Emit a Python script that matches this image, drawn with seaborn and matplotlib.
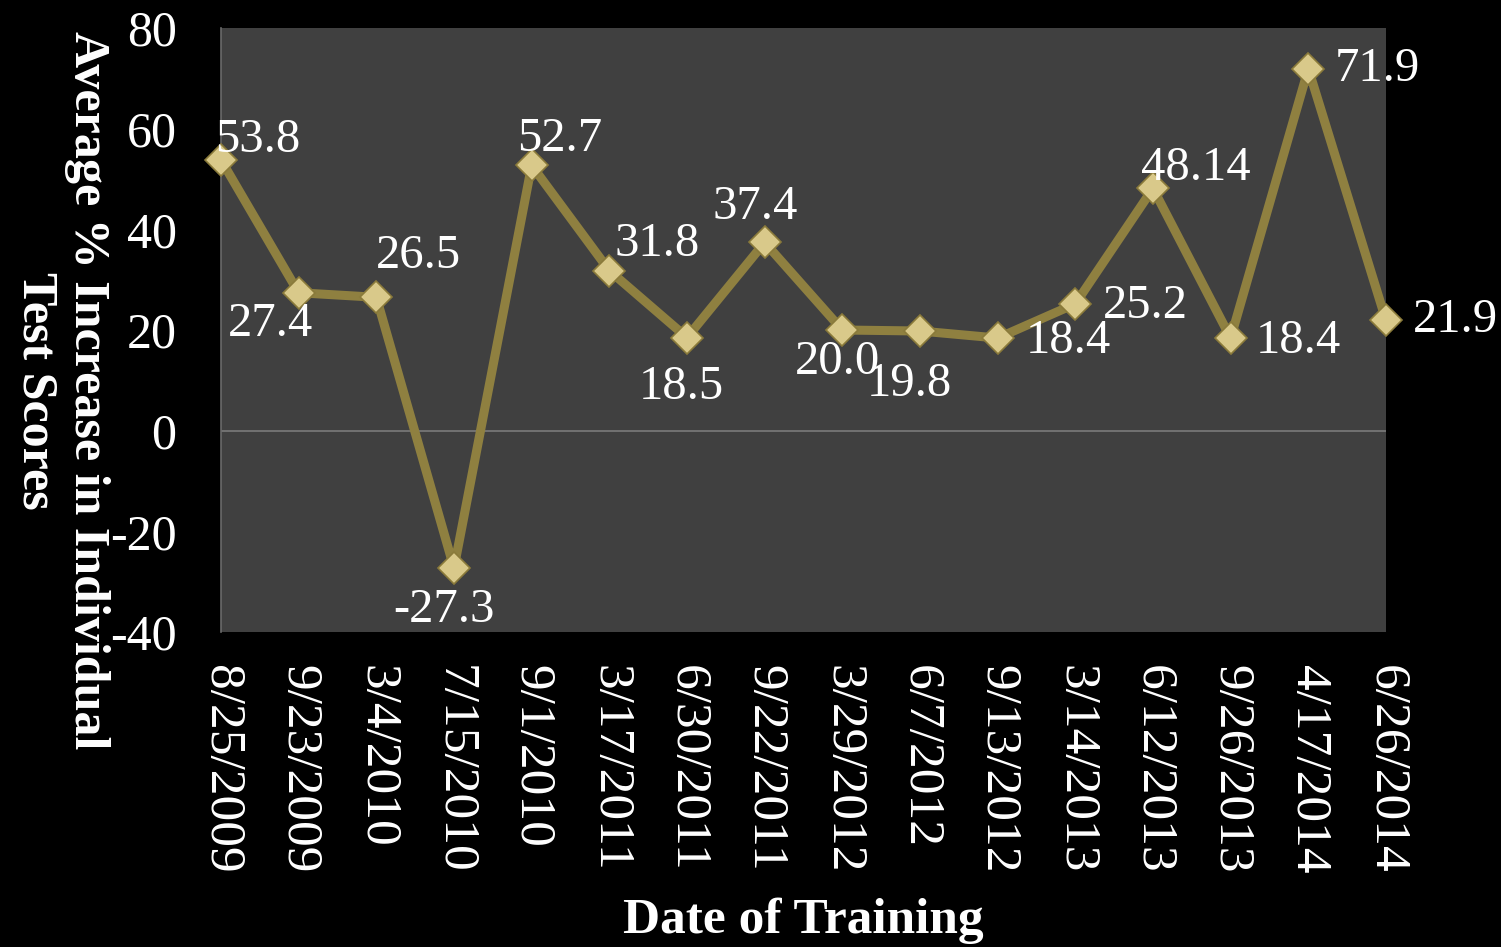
import pandas as pd
import matplotlib
matplotlib.use("Agg")
import matplotlib.pyplot as plt
import seaborn as sns


# Data
dates = [
    "8/25/2009", "9/23/2009", "3/4/2010", "7/15/2010", "9/1/2010",
    "3/17/2011", "6/30/2011", "9/22/2011", "3/29/2012", "6/7/2012",
    "9/13/2012", "3/14/2013", "6/12/2013", "9/26/2013", "4/17/2014",
    "6/26/2014",
]
increase = [53.8, 27.4, 26.5, -27.3, 52.7, 31.8, 18.5, 37.4, 20.0, 19.8,
            18.4, 25.2, 48.14, 18.4, 71.9, 21.9]
value_labels = ["53.8", "27.4", "26.5", "-27.3", "52.7", "31.8", "18.5",
                "37.4", "20.0", "19.8", "18.4", "25.2", "48.14", "18.4",
                "71.9", "21.9"]

df = pd.DataFrame({"pos": range(len(dates)), "date": dates, "increase": increase})

# label offsets in pixels (dx, dy) from each point
label_offsets = [(37, 20), (-28, -31), (42, 41), (-10, -42), (28, 26),
                 (48, 27), (-6, -49), (-9, 35), (-5, -32), (-11, -53),
                 (71, -3), (70, -2), (43, 20), (68, -3), (69, 0), (69, 0)]

# Styling
sns.set_style("dark")
plt.rcParams["font.family"] = ["Liberation Serif", "DejaVu Serif"]
plt.rcParams["axes.unicode_minus"] = False

fig = plt.figure(figsize=(15.01, 9.47), dpi=100, facecolor="black")
ax = fig.add_axes([221 / 1501, 1 - 632 / 947, (1386 - 221) / 1501, (632 - 28) / 947])
ax.set_facecolor("#404040")

ax.axhline(0, color="#7a7a7a", lw=1.2, zorder=1)

sns.lineplot(
    x="pos", y="increase", data=df, ax=ax,
    color="#8f8040", linewidth=6.5,
    marker="D", markersize=16,
    markerfacecolor="#d9c98a", markeredgecolor="#8a7a3a", markeredgewidth=1.2,
    zorder=3, clip_on=False,
)

for i, (val, lab) in enumerate(zip(increase, value_labels)):
    dx, dy = label_offsets[i]
    ax.annotate(lab, (i, val), xytext=(dx, dy), textcoords="offset pixels",
                ha="center", va="center", color="white", fontsize=35,
                zorder=5, annotation_clip=False)

ax.set_xlim(0, len(dates) - 1)
ax.set_ylim(-40, 80)
ax.set_yticks(range(-40, 81, 20))
ax.set_xticks(range(len(dates)))
ax.set_xticklabels(dates, rotation=-90, fontsize=37, color="white", va="top")
ax.tick_params(axis="y", labelsize=36, labelcolor="white", length=0, pad=32)
ax.tick_params(axis="x", length=0, pad=24)
ax.grid(False)

for side in ["top", "right", "bottom"]:
    ax.spines[side].set_visible(False)
ax.spines["left"].set_color("#6a6a6a")
ax.spines["left"].set_linewidth(1.2)

ax.set_xlabel("Date of Training", fontsize=37, fontweight="bold", color="white")
ax.set_ylabel("Average % Increase in Individual\nTest Scores", fontsize=36,
              fontweight="bold", color="white", linespacing=1.15,
              rotation=-90, ha="center", va="center", rotation_mode="default")
ax.yaxis.set_label_coords((61 - 221) / 1165, 0.40)
ax.xaxis.set_label_coords(0.5, -0.44)

fig.savefig("out.png", dpi=100, facecolor="black")
